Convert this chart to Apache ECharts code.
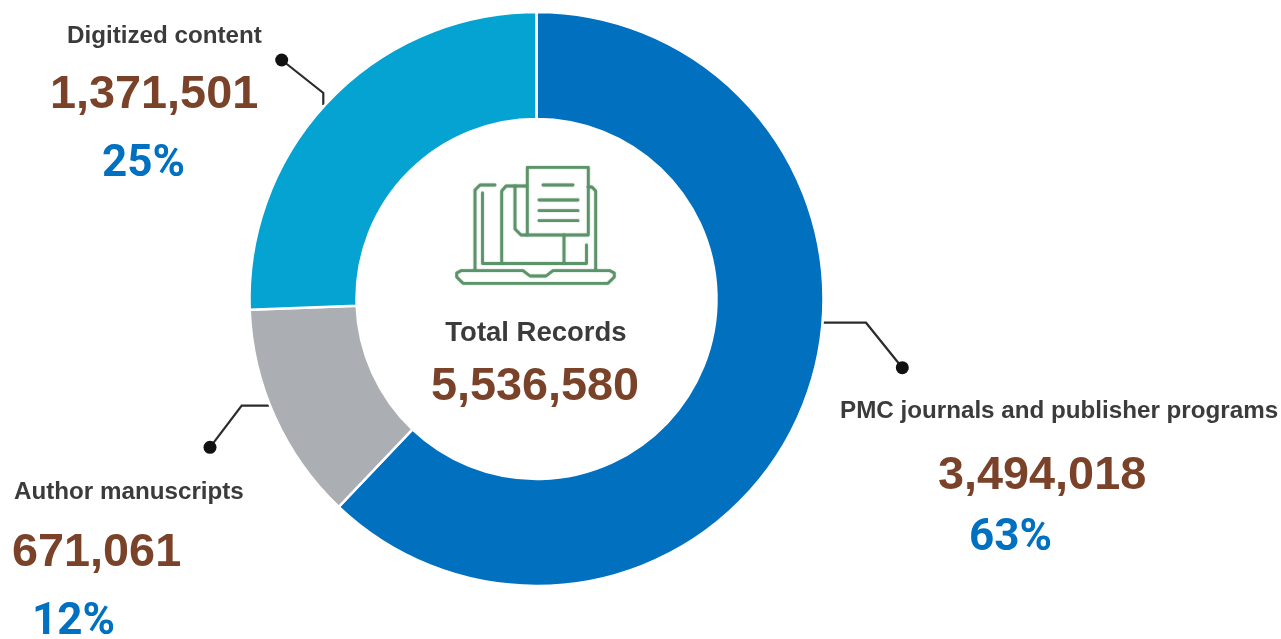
<!DOCTYPE html>
<html><head><meta charset="utf-8">
<style>html,body{margin:0;padding:0;background:#fff}#c{width:1281px;height:639px}</style>
<script src="https://cdn.jsdelivr.net/npm/echarts@6/dist/echarts.min.js"></script>
</head><body><div id="c"></div>
<script>
const categories = ['PMC journals and publisher programs', 'Author manuscripts', 'Digitized content'];
const values = [3494018, 671061, 1371501];
const shares = ['63%', '12%', '25%'];
// Slice sizes as the reference actually draws them, read from its arc boundaries (percent).
const arcShares = [62.1, 12.3, 25.6];
const totalLabel = 'Total Records';
const totalValue = 5536580;
const colors = ['#0070bf', '#abaeb3', '#05a3d1'];
const fmt = n => n.toLocaleString('en-US');
const soft = {shadowBlur:1.5, shadowColor:'rgba(60,60,60,0.7)'};
const NAME = Object.assign({fontFamily:'Liberation Sans', fontWeight:'bold', fontSize:24.2, fill:'#3b3b3b'}, soft);
const TOTAL = Object.assign({}, NAME, {fontSize:27.5});
const NUM = {fontFamily:'Liberation Sans', fontWeight:'bold', fontSize:46.8, fill:'#7a4229'};
const PCT = {fontFamily:'Roboto', fontWeight:'bold', fontSize:44, fill:'#0070c0'};
const txt = (s, style, x, y, align) => ({type:'text', silent:true, x, y: y + 0.21 * style.fontSize,
  style:Object.assign({text:s, textAlign:align||'left', textVerticalAlign:'bottom'}, style)});
const lead = (pts) => ({type:'polyline', silent:true, shape:{points:pts}, style:{fill:null, stroke:'#2b2b2b', lineWidth:2.2}});
const dot = (x, y) => ({type:'circle', silent:true, shape:{cx:x, cy:y, r:6.5}, style:{fill:'#111'}});
const G = {fill:null, stroke:'#5a9468', lineWidth:2.8, lineJoin:'round', lineCap:'round', shadowBlur:1.5, shadowColor:'rgba(90,130,100,0.6)'};
const gl = (pts) => ({type:'polyline', silent:true, shape:{points:pts}, style:G});
const icon = [
  gl([[495,185],[480,185],[475,190],[475,270]]),
  gl([[482.5,193],[482.5,263.5],[586.5,263.5],[586.5,245]]),
  gl([[588,187],[592,187],[595.7,191],[595.7,270]]),
  gl([[501.7,263],[501.7,191],[506,186],[527,186]]),
  gl([[515,186],[515,229],[521,235],[527,235]]),
  gl([[564,235],[564,263]]),
  gl([[527.3,167.3],[588.3,167.3],[588.3,235],[527.3,235],[527.3,167.3]]),
  gl([[543,185],[573,185]]), gl([[539,200],[578,200]]), gl([[539,210.7],[578,210.7]]), gl([[539,220.7],[578,220.7]]),
  gl([[461,270.7],[523,270.7],[530,276],[546,276],[553,270.7],[610,270.7],[614.3,273],[614.3,277],[608,283.3],[463,283.3],[456.7,277],[456.7,273],[461,270.7]])
];
const chart = echarts.init(document.getElementById('c'), null, {renderer:'canvas'});
chart.setOption({
  animation:false,
  backgroundColor:'#fff',
  series:[{
    type:'pie', center:[536.5,299], radius:[180,287], startAngle:90, clockwise:true,
    silent:true, label:{show:false}, labelLine:{show:false},
    itemStyle:{borderColor:'#fff', borderWidth:2.5},
    data:categories.map((name,i)=>({name, value:arcShares[i], itemStyle:{color:colors[i]}}))
  }],
  graphic:[
    lead([[323.3,105],[323.3,93],[281.7,60]]), dot(281.7,60),
    lead([[269.3,405.7],[241.7,405.7],[210,447.3]]), dot(210,447.3),
    lead([[823.3,322.7],[866,322.7],[902.3,367.7]]), dot(902.3,367.7),
    txt(categories[2], NAME, 67, 43), txt(fmt(values[2]), NUM, 50, 109), txt(shares[2], PCT, 102, 178),
    txt(categories[1], NAME, 14, 499), txt(fmt(values[1]), NUM, 12, 567), txt(shares[1], PCT, 32, 636),
    txt(categories[0], NAME, 840, 418), txt(fmt(values[0]), NUM, 938, 490), txt(shares[0], PCT, 969, 552),
    txt(totalLabel, TOTAL, 536, 342, 'center'), txt(fmt(totalValue), NUM, 535, 401, 'center')
  ].concat(icon)
});
</script></body></html>
